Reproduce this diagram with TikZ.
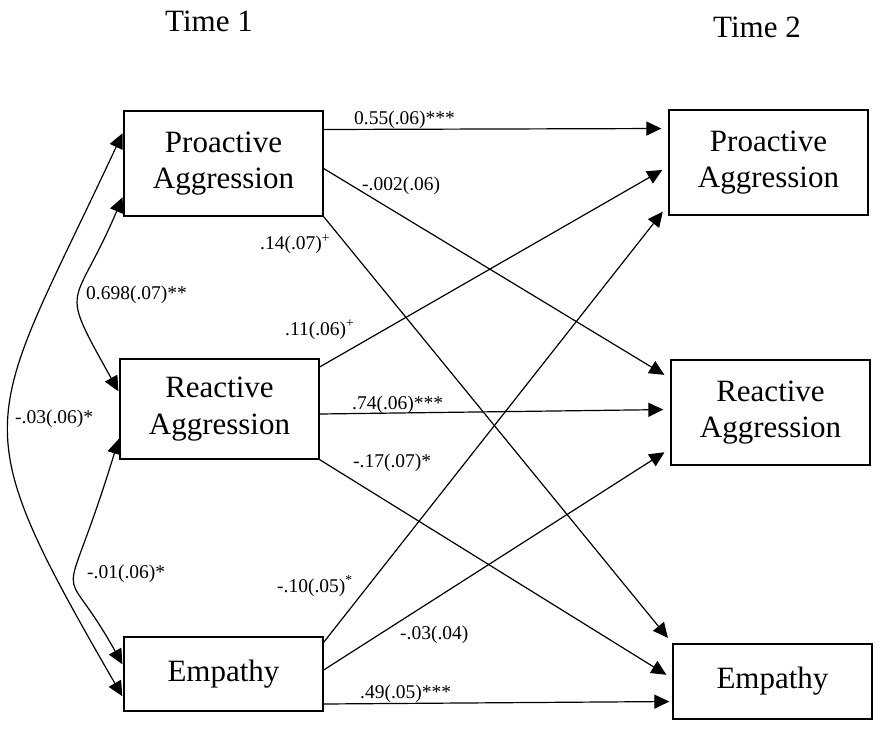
\documentclass[tikz,border=0pt]{standalone}
\usepackage{fontspec}
\setmainfont{Liberation Serif}
\usetikzlibrary{arrows.meta}

\begin{document}
\begin{tikzpicture}[x=1pt, y=1pt,
    >={Triangle[length=15pt,width=14pt]},
    var/.style={draw, line width=1.3pt, minimum width=199pt, align=center,
        inner sep=0pt, font=\fontsize{31}{36.7}\selectfont},
    coef/.style={anchor=base west, inner sep=0pt, font=\fontsize{19.5}{22}\selectfont},
    arr/.style={line width=1.2pt, ->, shorten >=7pt},
    cov/.style={line width=1.2pt, <->, shorten >=2pt, shorten <=2pt}]

    \useasboundingbox (0,0) rectangle (882,729);

    % -------------------------------
    % Time 1
    % -------------------------------
    \node[coef, font=\fontsize{31}{36}\selectfont] (t1) at (165,697) {Time 1};
    \node[var, minimum height=105pt] (pa1) at (223.5,565.5) {Proactive\\Aggression};
    \node[var, minimum height=100pt] (ra1) at (219.5,320) {Reactive\\Aggression};
    \node[var, minimum height=74pt] (em1) at (223.5,55) {Empathy};

    % -------------------------------
    % Time 2
    % -------------------------------
    \node[coef, font=\fontsize{31}{36}\selectfont] (t2) at (713,691) {Time 2};
    \node[var, minimum height=105pt] (pa2) at (768.5,566.5) {Proactive\\Aggression};
    \node[var, minimum height=105pt] (ra2) at (770.5,316.5) {Reactive\\Aggression};
    \node[var, minimum height=75pt] (em2) at (772.5,47.5) {Empathy};

    % cross-lagged paths
    \draw[arr] ([yshift=34pt]pa1.east) -- ([yshift=34pt]pa2.west);
    \draw[arr] ([yshift=-5pt]pa1.east) -- ([yshift=34pt]ra2.west);
    \draw[arr] (pa1.south east) -- (em2.north west);
    \draw[arr] ([yshift=42pt]ra1.east) -- ([yshift=-4pt]pa2.west);
    \draw[arr] ([yshift=-5pt]ra1.east) -- ([yshift=3pt]ra2.west);
    \draw[arr] (ra1.south east) -- ([yshift=3pt]em2.west);
    \draw[arr, shorten >=9pt] ([yshift=-6pt]em1.north east) -- ([yshift=11pt]pa2.south west);
    \draw[arr] ([yshift=4pt]em1.east) -- ([yshift=-36pt]ra2.west);
    \draw[arr, shorten >=3pt] ([yshift=-30pt]em1.east) -- ([yshift=-20pt]em2.west);

    % correlations at time 1
    \draw[cov] ([yshift=-32pt]pa1.west) to[out=247, in=119, distance=128pt] ([yshift=16pt]ra1.west);
    \draw[cov] ([yshift=-28pt]ra1.west) to[out=253, in=119, out distance=200pt, in distance=135pt] ([yshift=8pt]em1.west);
    \draw[cov] ([yshift=32pt]pa1.west) to[out=245, in=120, distance=329pt] ([yshift=-24pt]em1.west);

    % coefficients
    \foreach \n/\x/\y/\t in {c1/354/604.7/{0.55(.06)***}, c2/362/538/{-.002(.06)},
        c3/260/479/{.14(.07)\textsuperscript{+}}, c4/285/394/{.11(.06)\textsuperscript{+}},
        c5/352/320/{.74(.06)***}, c6/353/262/{-.17(.07)*},
        c7/277/137/{-.10(.05)\textsuperscript{*}}, c8/400/90/{-.03(.04)},
        c9/360/31/{.49(.05)***}, r1/86/429/{0.698(.07)**},
        r2/87/151/{-.01(.06)*}, r3/15/306/{-.03(.06)*}} {
        \node[coef] (\n) at (\x,\y) {\t};
    }

\end{tikzpicture}
\end{document}
